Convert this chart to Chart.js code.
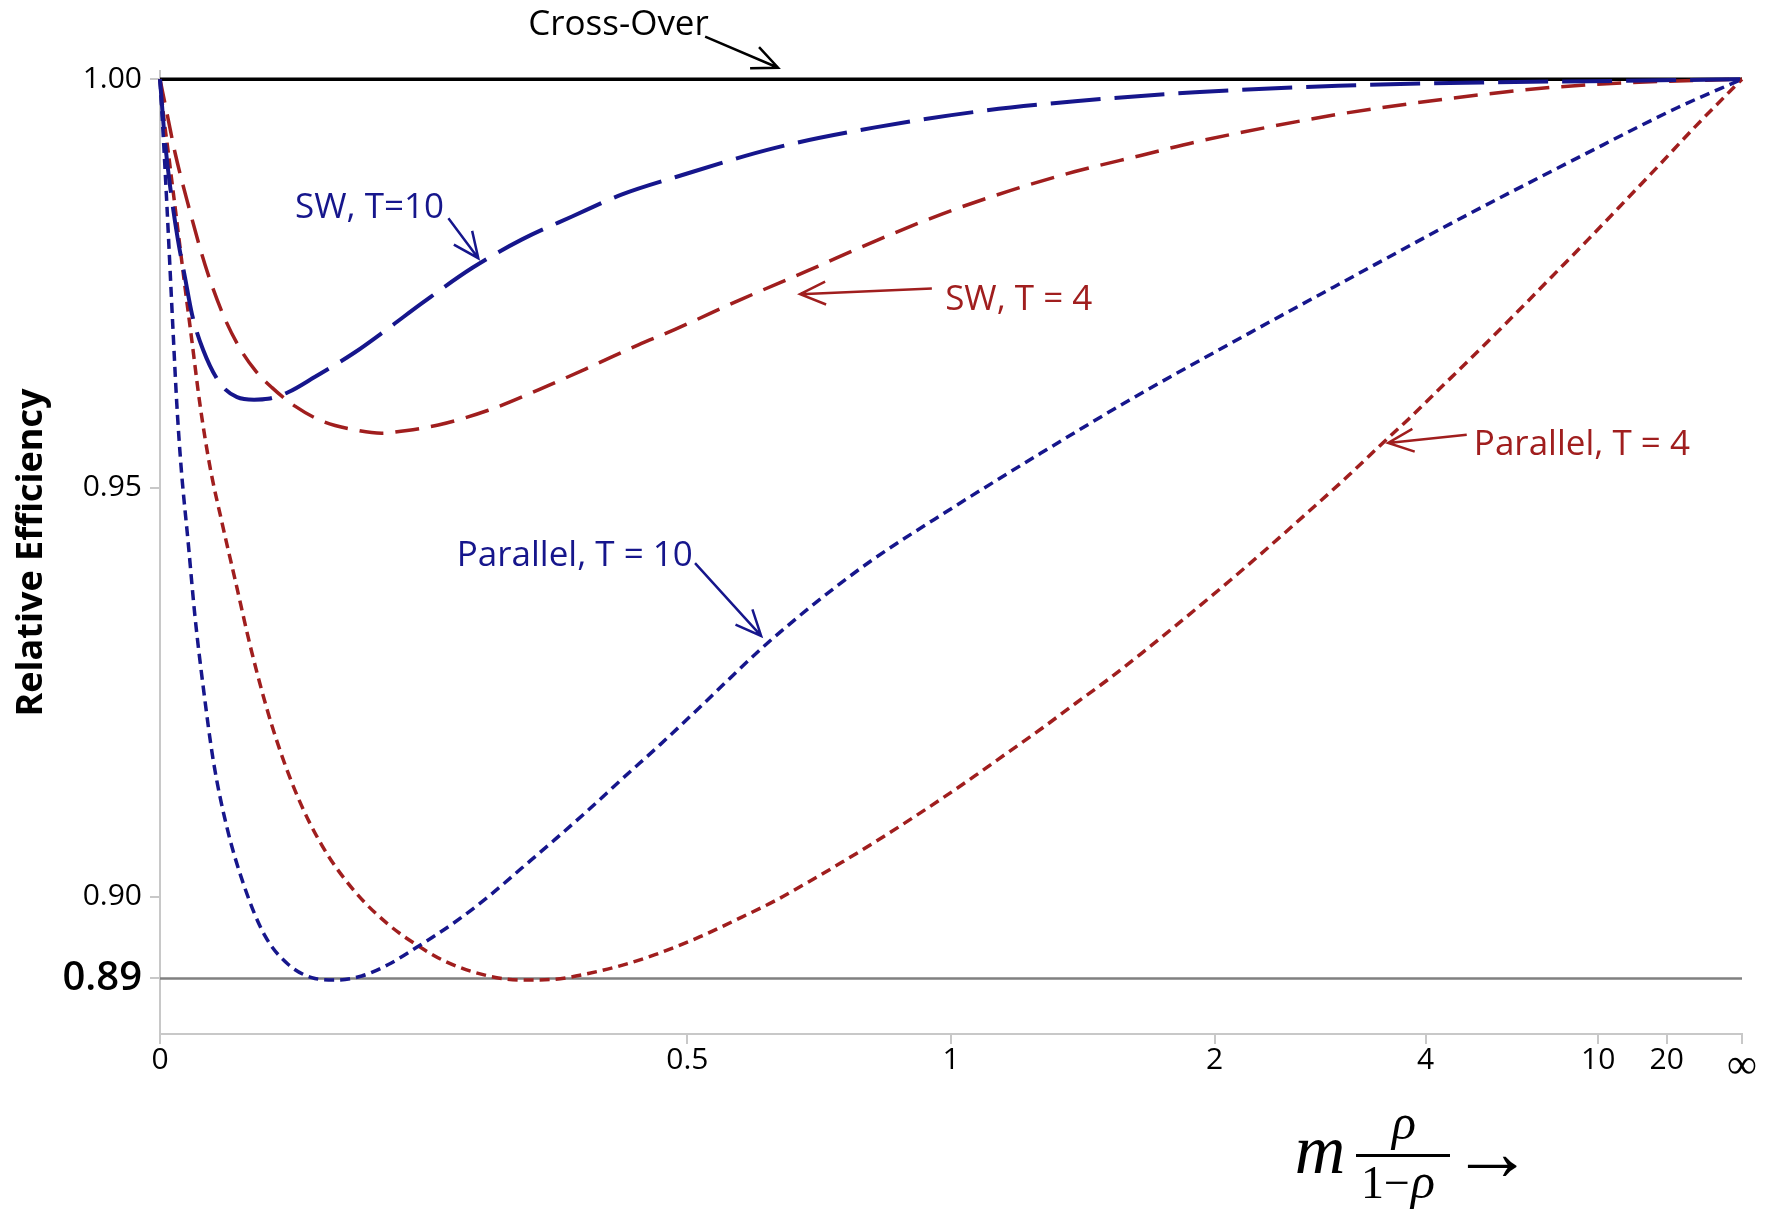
<!DOCTYPE html>
<html>
<head>
<meta charset="utf-8">
<script src="https://cdn.jsdelivr.net/npm/chart.js@4.4.0/dist/chart.umd.min.js"></script>
<style>
  html, body { margin: 0; padding: 0; background: #fff; }
  canvas { display: block; }
</style>
</head>
<body>
<canvas id="chart" width="1771" height="1209"></canvas>
<script>
"use strict";

// x is m*rho/(1-rho); the axis is laid out in x/(1+x) so that infinity lands at 1
const xTickValues = [0, 0.5, 1, 2, 4, 10, 20, Infinity];
const xTickLabels = ['0', '0.5', '1', '2', '4', '10', '20', '∞'];
const yTickValues = [0.89, 0.90, 0.95, 1.00];
const yTickLabels = ['0.89', '0.90', '0.95', '1.00'];

const crossOverLevel = 1.0;
const floorLevel = 0.89;

const sw10X = [0, 0.0025, 0.0044, 0.0076, 0.0115, 0.0161, 0.0207, 0.028, 0.0394, 0.0512,
	0.0632, 0.0733, 0.0881, 0.1087, 0.1406, 0.1684, 0.1985, 0.2457, 0.2968, 0.3522,
	0.4126, 0.4828, 0.6362, 0.825, 1.063, 1.372, 1.893, 2.918, 5.067, 12.44, Infinity];
const sw10Y = [1.0, 0.9938, 0.9901, 0.9852, 0.9803, 0.9757, 0.9712, 0.9669, 0.9628, 0.9611,
	0.9608, 0.9609, 0.9617, 0.9636, 0.9666, 0.9695, 0.9726, 0.9769, 0.9804, 0.9832,
	0.9859, 0.9880, 0.9916, 0.9941, 0.9960, 0.9973, 0.9984, 0.9992, 0.9996, 0.9998, 1.0];

const sw4X = [0, 0.0053, 0.0096, 0.0182, 0.0293, 0.0406, 0.0521, 0.0639, 0.076, 0.0933,
	0.1139, 0.1406, 0.163, 0.1833, 0.2135, 0.2619, 0.3144, 0.3713, 0.4335, 0.4828,
	0.5817, 0.6946, 0.825, 0.9772, 1.157, 1.372, 1.636, 1.893, 2.328, 2.917,
	3.759, 5.06, 7.338, 12.39, Infinity];
const sw4Y = [1.0, 0.9950, 0.9910, 0.9846, 0.9773, 0.9716, 0.9674, 0.9644, 0.9623, 0.9600,
	0.9582, 0.9571, 0.9567, 0.9570, 0.9577, 0.9595, 0.9620, 0.9647, 0.9675, 0.9694,
	0.9731, 0.9766, 0.9802, 0.9835, 0.9863, 0.9887, 0.9907, 0.9923, 0.9941, 0.9957,
	0.9970, 0.9981, 0.9990, 0.99955, 1.0];

const par10X = [0, 0.0021, 0.0043, 0.0064, 0.0085, 0.0107, 0.0135, 0.0182, 0.0226, 0.0282,
	0.0349, 0.044, 0.0568, 0.0711, 0.0883, 0.1061, 0.1244, 0.1462, 0.1687, 0.1937,
	0.2293, 0.2619, 0.2965, 0.3329, 0.3713, 0.4126, 0.4623, 0.5184, 0.614, 0.7068,
	0.8145, 0.9953, 1.254, 1.586, 2.217, 3.09, 4.422, 8.843, 23.44, Infinity];
const par10Y = [1.0, 0.9929, 0.9849, 0.9767, 0.9685, 0.9604, 0.9526, 0.9432, 0.9343, 0.9255,
	0.9166, 0.9086, 0.9010, 0.8952, 0.8917, 0.8901, 0.8898, 0.8903, 0.8917, 0.8938,
	0.8969, 0.9000, 0.9035, 0.9070, 0.9106, 0.9144, 0.9186, 0.9232, 0.9304, 0.9359,
	0.9410, 0.9473, 0.9542, 0.9608, 0.9690, 0.9760, 0.9823, 0.9906, 0.9965, 1.0];

const par4X = [0, 0.0021, 0.0053, 0.0096, 0.0161, 0.0205, 0.026, 0.0326, 0.0406, 0.0498,
	0.0616, 0.076, 0.0933, 0.1139, 0.1406, 0.1687, 0.1937, 0.2198, 0.2619, 0.3,
	0.3329, 0.3713, 0.4122, 0.4555, 0.5184, 0.5817, 0.6362, 0.6946, 0.7574, 0.825,
	0.8979, 0.9772, 1.063, 1.157, 1.26, 1.372, 1.497, 1.636, 1.791, 2.097,
	2.325, 2.597, 3.028, 3.447, 3.754, 4.331, 5.067, 6.008, 7.338, 9.291,
	12.44, 18.12, 32.86, Infinity];
const par4Y = [1.0, 0.9958, 0.9910, 0.9844, 0.9745, 0.9681, 0.9601, 0.9526, 0.9459, 0.9388,
	0.9299, 0.9210, 0.9130, 0.9063, 0.9006, 0.8966, 0.8941, 0.8921, 0.8903, 0.8898,
	0.8899, 0.8906, 0.8916, 0.8929, 0.8951, 0.8975, 0.8995, 0.9018, 0.9042, 0.9067,
	0.9093, 0.9120, 0.9148, 0.9177, 0.9206, 0.9236, 0.9266, 0.9298, 0.9331, 0.9388,
	0.9425, 0.9464, 0.9516, 0.9559, 0.9585, 0.9628, 0.9671, 0.9714, 0.9759, 0.9804,
	0.9850, 0.9895, 0.9942, 1.0];

const NAVY = '#16168c';
const DARKRED = '#a01e1e';
const SANS = '"Open Sans", "DejaVu Sans", sans-serif';
const SERIF = '"Liberation Serif", "DejaVu Serif", serif';

const toAxis = v => (v === Infinity ? 1 : v / (1 + v));
const points = (xs, ys) => xs.map((x, i) => ({ x: toAxis(x), y: ys[i] }));

// labels with their arrows, in axis units (x/(1+x), efficiency)
const notes = [
	{ text: 'Cross-Over', color: '#000', at: [0.2327, 1.0054], from: [0.3446, 1.0052], to: [0.3907, 1.0014] },
	{ text: 'SW, T=10', color: NAVY, at: [0.0854, 0.9830], from: [0.1823, 0.9830], to: [0.2012, 0.9781] },
	{ text: 'SW, T = 4', color: DARKRED, at: [0.4963, 0.9718], from: [0.4879, 0.9744], to: [0.4046, 0.9737] },
	{ text: 'Parallel, T = 10', color: NAVY, at: [0.1876, 0.9405], from: [0.3382, 0.9408], to: [0.3800, 0.9319] },
	{ text: 'Parallel, T = 4', color: DARKRED, at: [0.8305, 0.9540], from: [0.8260, 0.9565], to: [0.7763, 0.9555] }
];

function arrow(ctx, x1, y1, x2, y2, color) {
	const a = Math.atan2(y2 - y1, x2 - x1), len = 28, spread = 0.42;
	ctx.strokeStyle = color;
	ctx.lineWidth = 2.5;
	ctx.beginPath();
	ctx.moveTo(x1, y1);
	ctx.lineTo(x2, y2);
	ctx.moveTo(x2 - len * Math.cos(a - spread), y2 - len * Math.sin(a - spread));
	ctx.lineTo(x2, y2);
	ctx.lineTo(x2 - len * Math.cos(a + spread), y2 - len * Math.sin(a + spread));
	ctx.stroke();
}

const notesPlugin = {
	id: 'notes',
	afterDraw(chart) {
		const ctx = chart.ctx, xs = chart.scales.x, ys = chart.scales.y;
		ctx.save();
		ctx.font = '35px ' + SANS;
		ctx.textAlign = 'left';
		ctx.textBaseline = 'alphabetic';
		notes.forEach(n => {
			ctx.fillStyle = n.color;
			ctx.fillText(n.text, xs.getPixelForValue(n.at[0]), ys.getPixelForValue(n.at[1]));
			arrow(ctx, xs.getPixelForValue(n.from[0]), ys.getPixelForValue(n.from[1]),
				xs.getPixelForValue(n.to[0]), ys.getPixelForValue(n.to[1]), n.color);
		});

		// x axis title: m rho/(1-rho) ->
		ctx.fillStyle = '#000';
		ctx.textAlign = 'center';
		ctx.font = 'italic 70px ' + SERIF;
		ctx.fillText('m', 1320, 1173);
		ctx.font = 'italic 50px ' + SERIF;
		ctx.fillText('ρ', 1404, 1139);
		ctx.fillRect(1356, 1154, 94, 3);
		ctx.textAlign = 'left';
		ctx.font = '46px ' + SERIF;
		const one = ctx.measureText('1−').width;
		ctx.fillText('1−', 1361, 1198);
		ctx.font = 'italic 50px ' + SERIF;
		ctx.fillText('ρ', 1361 + one + 1, 1198);
		ctx.font = '82px ' + SERIF;
		ctx.textAlign = 'center';
		ctx.fillText('→', 1492, 1180);
		ctx.restore();
	}
};

new Chart(document.getElementById('chart'), {
	type: 'line',
	data: {
		datasets: [
			{ data: points(sw10X, sw10Y), borderColor: NAVY, borderWidth: 4, borderDash: [50, 14], order: 1 },
			{ data: points(sw4X, sw4Y), borderColor: DARKRED, borderWidth: 3.5, borderDash: [24, 12], order: 2 },
			{ data: points(par10X, par10Y), borderColor: NAVY, borderWidth: 3.5, borderDash: [10, 6], order: 3 },
			{ data: points(par4X, par4Y), borderColor: DARKRED, borderWidth: 3.5, borderDash: [10, 6], order: 4 },
			{ data: points([0, Infinity], [crossOverLevel, crossOverLevel]), borderColor: '#000', borderWidth: 3.5, order: 5 },
			{ data: points([0, Infinity], [floorLevel, floorLevel]), borderColor: '#808080', borderWidth: 2.5, order: 6 }
		]
	},
	options: {
		responsive: false,
		animation: false,
		devicePixelRatio: 1,
		layout: { padding: { top: 71, right: 29, bottom: 0, left: 10 } },
		elements: {
			point: { radius: 0 },
			line: { cubicInterpolationMode: 'monotone', fill: false }
		},
		datasets: { line: { clip: false } },
		plugins: { legend: { display: false }, tooltip: { enabled: false } },
		scales: {
			x: {
				type: 'linear',
				min: 0,
				max: 1,
				afterFit: s => { s.height = 175; },
				afterBuildTicks: s => { s.ticks = xTickValues.map(v => ({ value: toAxis(v) })); },
				grid: { drawOnChartArea: false, drawTicks: true, tickLength: 10, color: '#c8c8c8', lineWidth: 2 },
				border: { color: '#c8c8c8', width: 2 },
				ticks: {
					autoSkip: false,
					maxRotation: 0,
					padding: -2,
					color: '#000',
					font: ctx => (ctx.index === xTickLabels.length - 1
						? { family: SERIF, size: 42 }
						: { family: SANS, size: 30 }),
					callback: (v, i) => xTickLabels[i]
				}
			},
			y: {
				type: 'linear',
				min: 0.8832,
				max: 1.001,
				afterFit: s => { s.width = 150; },
				afterBuildTicks: s => { s.ticks = yTickValues.map(v => ({ value: v })); },
				grid: { drawOnChartArea: false, drawTicks: true, tickLength: 10, color: '#c8c8c8', lineWidth: 2 },
				border: { color: '#c8c8c8', width: 2 },
				title: {
					display: true,
					text: 'Relative Efficiency',
					color: '#000',
					padding: 0,
					font: { family: SANS, size: 36, weight: 'bold' }
				},
				ticks: {
					autoSkip: false,
					padding: 8,
					color: '#000',
					font: ctx => (ctx.index === 0
						? { family: SANS, size: 40, weight: '600' }
						: { family: SANS, size: 30 }),
					callback: (v, i) => yTickLabels[i]
				}
			}
		}
	},
	plugins: [notesPlugin]
});
</script>
</body>
</html>
